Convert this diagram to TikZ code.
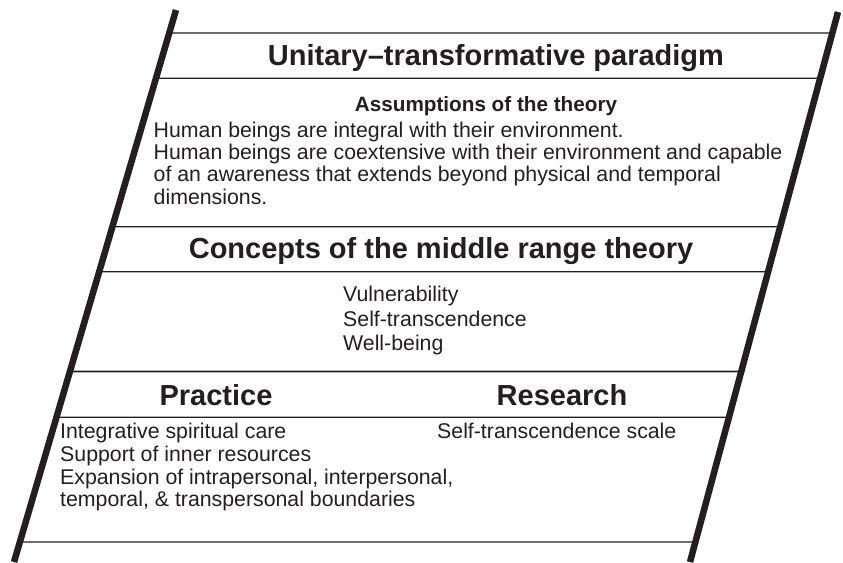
\documentclass[tikz,border=0pt]{standalone}
\usepackage{fontspec}
\setmainfont{Liberation Sans}
\usepackage{xcolor}
\usetikzlibrary{positioning, calc}
\definecolor{ink}{RGB}{35,31,32}
\tikzset{
  rule/.style={ink, line width=1.3pt},
  slant/.style={ink, line width=6.5pt},
  head/.style={inner sep=0pt, anchor=base, text=ink,
    font=\fontsize{29}{30}\selectfont\bfseries},
  item/.style={inner sep=0pt, anchor=base west, text=ink,
    font=\fontsize{21.3}{22}\selectfont},
}

\begin{document}
\begin{tikzpicture}[x=1pt, y=-1pt]
  \useasboundingbox (0,0) rectangle (843,562);
  \coordinate (lt) at (176,10);
  \coordinate (lb) at (14,562);
  \coordinate (rt) at (838,12);
  \coordinate (rb) at (690,562);

  % rules running from one slanted side to the other
  \foreach \y/\w in {33/1.3, 78.3/1.3, 226.7/1.3, 271.7/1.3, 371.5/1.8, 417.3/1.3, 542/1.3} {
    \draw[rule, line width=\w pt] ($(lt)!{(\y-10)/552}!(lb)$) -- ($(rt)!{(\y-12)/550}!(rb)$);
  }
  \draw[slant] (lt) -- (lb);
  \draw[slant] (rt) -- (rb);

  \node[head] (title) at (496,65) {Unitary--transformative paradigm};
  \node[head, font=\fontsize{20.7}{22}\selectfont\bfseries] (assum) at (486,111)
    {Assumptions of the theory};
  \foreach \y/\t [count=\i] in {137.3/{Human beings are integral with their environment.},
      159.5/{Human beings are coextensive with their environment and capable},
      181.7/{of an awareness that extends beyond physical and temporal},
      204/{dimensions.}} {
    \node[item] (asm\i) at (153.5,\y) {\t};
  }

  \node[head] (concepts) at (441,258.3) {Concepts of the middle range theory};
  \foreach \y/\t [count=\i] in {301.7/Vulnerability, 326/Self-transcendence, 350.3/Well-being} {
    \node[item] (con\i) at (343,\y) {\t};
  }

  \node[head] (practice) at (216,405) {Practice};
  \node[head] (research) at (562,405) {Research};
  \foreach \y/\t [count=\i] in {438.3/{Integrative spiritual care},
      461.5/{Support of inner resources},
      484/{Expansion of intrapersonal, interpersonal,},
      506.7/{temporal, \& transpersonal boundaries}} {
    \node[item] (pra\i) at (60,\y) {\t};
  }
  \node[item] (res1) at (437,438.3) {Self-transcendence scale};
\end{tikzpicture}
\end{document}
